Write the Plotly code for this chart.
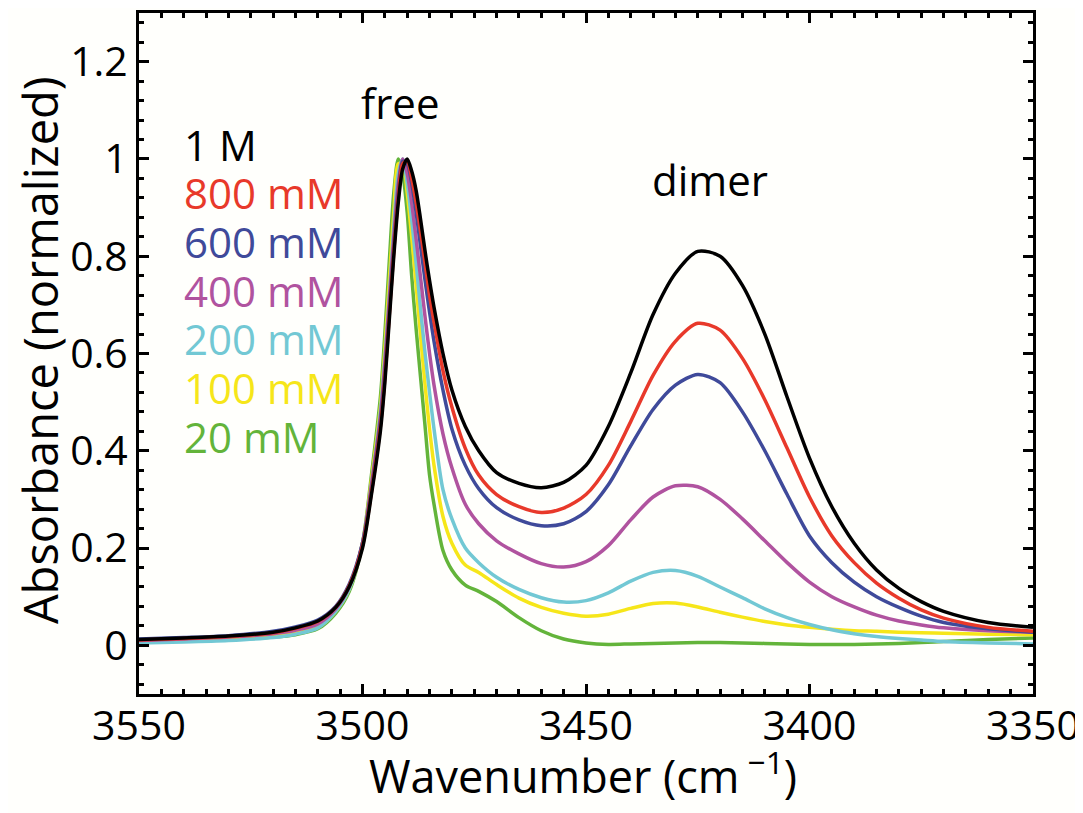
import plotly.graph_objects as go

wavenumber = [3550, 3540, 3530, 3520, 3515, 3510, 3506, 3503, 3500, 3498, 3496, 3495, 3494, 3493,
              3492, 3491, 3490, 3489, 3488, 3487, 3486, 3485, 3484, 3482, 3480, 3477, 3474, 3470,
              3465, 3460, 3455, 3450, 3445, 3440, 3435, 3430, 3425, 3420, 3415, 3410, 3405, 3400,
              3395, 3390, 3385, 3380, 3375, 3370, 3360, 3350]

abs_1M = [0.012, 0.015, 0.019, 0.027, 0.036, 0.050, 0.078, 0.12, 0.20, 0.31, 0.44, 0.54, 0.67, 0.80,
          0.91, 0.98, 1.0, 0.975, 0.935, 0.875, 0.81, 0.75, 0.695, 0.60, 0.525, 0.45, 0.40, 0.355,
          0.333, 0.324, 0.335, 0.37, 0.45, 0.56, 0.68, 0.765, 0.81, 0.80, 0.74, 0.64, 0.51, 0.385,
          0.285, 0.21, 0.155, 0.117, 0.09, 0.07, 0.047, 0.037]
abs_800 = [0.011, 0.014, 0.018, 0.026, 0.035, 0.049, 0.078, 0.122, 0.205, 0.315, 0.45, 0.55, 0.68, 0.81,
           0.92, 0.99, 0.995, 0.96, 0.91, 0.85, 0.785, 0.72, 0.665, 0.565, 0.49, 0.405, 0.35, 0.31,
           0.285, 0.273, 0.282, 0.31, 0.37, 0.46, 0.555, 0.625, 0.662, 0.648, 0.59, 0.505, 0.405, 0.305,
           0.225, 0.17, 0.128, 0.097, 0.073, 0.056, 0.037, 0.029]
abs_600 = [0.013, 0.016, 0.020, 0.029, 0.038, 0.052, 0.08, 0.125, 0.21, 0.32, 0.46, 0.56, 0.69, 0.82,
           0.93, 0.995, 0.99, 0.95, 0.89, 0.82, 0.75, 0.685, 0.625, 0.525, 0.445, 0.37, 0.322, 0.283,
           0.258, 0.246, 0.25, 0.275, 0.33, 0.41, 0.485, 0.535, 0.557, 0.54, 0.48, 0.40, 0.31, 0.225,
           0.17, 0.13, 0.10, 0.078, 0.06, 0.047, 0.034, 0.027]
abs_400 = [0.010, 0.013, 0.017, 0.024, 0.031, 0.044, 0.075, 0.12, 0.21, 0.33, 0.47, 0.58, 0.71, 0.84,
           0.95, 1.0, 0.97, 0.91, 0.835, 0.755, 0.675, 0.60, 0.535, 0.435, 0.365, 0.29, 0.25, 0.215,
           0.188, 0.168, 0.161, 0.172, 0.205, 0.258, 0.305, 0.328, 0.326, 0.30, 0.26, 0.215, 0.17, 0.13,
           0.10, 0.079, 0.062, 0.05, 0.042, 0.036, 0.030, 0.027]
abs_200 = [0.005, 0.007, 0.010, 0.016, 0.023, 0.036, 0.07, 0.115, 0.21, 0.33, 0.48, 0.59, 0.72, 0.86,
           0.97, 1.0, 0.95, 0.875, 0.785, 0.69, 0.60, 0.52, 0.445, 0.32, 0.26, 0.20, 0.17, 0.14,
           0.115, 0.098, 0.089, 0.092, 0.108, 0.132, 0.15, 0.154, 0.142, 0.12, 0.098, 0.075, 0.057, 0.043,
           0.032, 0.024, 0.018, 0.014, 0.011, 0.008, 0.005, 0.003]
abs_100 = [0.009, 0.011, 0.014, 0.019, 0.025, 0.037, 0.07, 0.115, 0.21, 0.34, 0.49, 0.61, 0.75, 0.89,
           0.99, 0.99, 0.93, 0.84, 0.74, 0.635, 0.535, 0.445, 0.37, 0.265, 0.21, 0.165, 0.15, 0.125,
           0.097, 0.078, 0.066, 0.06, 0.064, 0.076, 0.086, 0.087, 0.079, 0.068, 0.058, 0.049, 0.042, 0.037,
           0.033, 0.030, 0.029, 0.027, 0.026, 0.025, 0.023, 0.022]
abs_20 = [0.008, 0.010, 0.012, 0.017, 0.022, 0.034, 0.066, 0.11, 0.21, 0.35, 0.51, 0.64, 0.79, 0.93,
          1.0, 0.97, 0.89, 0.76, 0.65, 0.55, 0.45, 0.35, 0.29, 0.195, 0.155, 0.124, 0.111, 0.09,
          0.057, 0.03, 0.013, 0.005, 0.002, 0.003, 0.004, 0.005, 0.006, 0.006, 0.005, 0.004, 0.003, 0.002,
          0.002, 0.002, 0.003, 0.004, 0.006, 0.008, 0.012, 0.015]

labels = ["1 M", "800 mM", "600 mM", "400 mM", "200 mM", "100 mM", "20 mM"]
series = [abs_1M, abs_800, abs_600, abs_400, abs_200, abs_100, abs_20]
colors = ["#000000", "#e8392a", "#3f4a9a", "#b0539f", "#72c8d4", "#f6e619", "#63b43a"]
label_y = [1.03, 0.93, 0.83, 0.73, 0.63, 0.53, 0.43]

y_tickvals = [0, 0.2, 0.4, 0.6, 0.8, 1.0, 1.2]
y_ticktext = ["0", "0.2", "0.4", "0.6", "0.8", "1", "1.2"]
x_tickvals = [3550, 3500, 3450, 3400, 3350]

FONT = "Open Sans"

fig = go.Figure()
# draw low-concentration first so black ends up on top
for name, ys, col in reversed(list(zip(labels, series, colors))):
    fig.add_trace(go.Scatter(x=wavenumber, y=ys, mode="lines", name=name,
                             line=dict(color=col, width=3.5, shape="spline", smoothing=0.8),
                             showlegend=False))

for name, col, yy in zip(labels, colors, label_y):
    fig.add_annotation(x=3540.3, y=yy, xref="x", yref="y", text=name, showarrow=False,
                       xanchor="left", yanchor="middle",
                       font=dict(family=FONT, size=42, color=col))

fig.add_annotation(x=3491.7, y=1.116, xref="x", yref="y", text="free", showarrow=False,
                   xanchor="center", yanchor="middle", font=dict(family=FONT, size=42, color="black"))
fig.add_annotation(x=3422.3, y=0.957, xref="x", yref="y", text="dimer", showarrow=False,
                   xanchor="center", yanchor="middle", font=dict(family=FONT, size=42, color="black"))

# axis titles as annotations for precise placement
fig.add_annotation(x=0.497, y=0, xref="paper", yref="paper", yshift=-79,
                   text="Wavenumber (cm<sup> −1</sup>)", showarrow=False,
                   xanchor="center", yanchor="middle",
                   font=dict(family=FONT, size=45, color="black"))
fig.add_annotation(x=0, y=0.505, xref="paper", yref="paper", xshift=-99,
                   text="Absorbance (normalized)", showarrow=False, textangle=-90,
                   xanchor="center", yanchor="middle",
                   font=dict(family=FONT, size=47, color="black"))

axis_common = dict(showline=True, linecolor="black", linewidth=3, mirror="ticks",
                   ticks="inside", ticklen=10, tickwidth=3, tickcolor="black",
                   showgrid=False, zeroline=False, automargin=False,
                   tickfont=dict(family=FONT, size=41, color="black"))

fig.update_xaxes(range=[3550, 3350], tickvals=x_tickvals, ticklabelstandoff=-6,
                 minor=dict(dtick=5, ticks="inside", ticklen=5, tickwidth=3, tickcolor="black", showgrid=False),
                 **axis_common)
fig.update_yaxes(range=[-0.1, 1.3], tickvals=y_tickvals, ticktext=y_ticktext,
                 minor=dict(dtick=0.04, tick0=0, ticks="inside", ticklen=5, tickwidth=3, tickcolor="black", showgrid=False),
                 **axis_common)

# the page body adds an 8px offset; margins compensate so the plot box lands where the reference has it
fig.update_layout(width=1083, height=813,
                  margin=dict(l=131, r=58, t=5, b=127),
                  paper_bgcolor="#fffffc", plot_bgcolor="#fffffc",
                  showlegend=False)

fig.write_html("out.html")
